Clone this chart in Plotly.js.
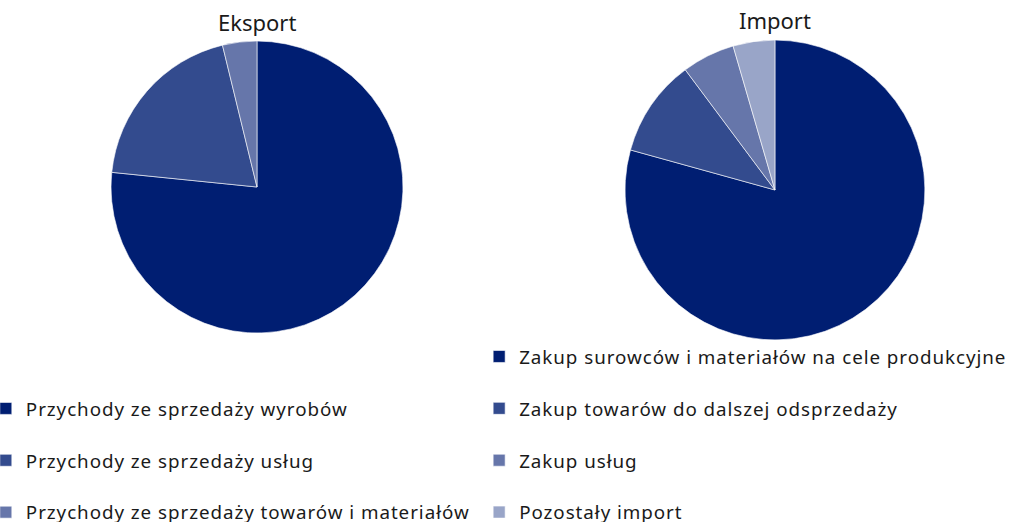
<!DOCTYPE html>
<html>
<head>
<meta charset="utf-8">
<script src="https://cdn.plot.ly/plotly-3.0.1.min.js"></script>
<style>
html,body{margin:0;padding:0;background:#fff;}
#chart{width:1013px;height:522px;}
text.legendtext, text.legend2text{letter-spacing:0.95px;}
</style>
</head>
<body>
<div id="chart"></div>
<script>
// ---- data ----
const chartTitles = ["Eksport", "Import"];
const exportCategories = [
  "Przychody ze sprzedaży wyrobów",
  "Przychody ze sprzedaży usług",
  "Przychody ze sprzedaży towarów i materiałów"
];
const exportShares = [76.6, 19.6, 3.8];
const importCategories = [
  "Zakup surowców i materiałów na cele produkcyjne",
  "Zakup towarów do dalszej odsprzedaży",
  "Zakup usług",
  "Pozostały import"
];
const importShares = [79.3, 10.5, 5.7, 4.5];

// ---- styles ----
const exportColors = ["#001e72", "#334b8e", "#6676aa"];
const importColors = ["#001e72", "#334b8e", "#6676aa", "#99a5c8"];
const FONT = "Noto Sans, sans-serif";

const spaced = arr => arr.map(s => s + "<br> ");

const traces = [
  {
    type: "pie",
    labels: spaced(exportCategories),
    values: exportShares,
    sort: false,
    direction: "clockwise",
    rotation: 0,
    textinfo: "none",
    hoverinfo: "label+percent",
    marker: {colors: exportColors, line: {color: "#ffffff", width: 0.6}},
    domain: {x: [0.1096, 0.3978], y: [0.362, 0.9215]},
    legend: "legend",
    showlegend: true
  },
  {
    type: "pie",
    labels: spaced(importCategories),
    values: importShares,
    sort: false,
    direction: "clockwise",
    rotation: 0,
    textinfo: "none",
    hoverinfo: "label+percent",
    marker: {colors: importColors, line: {color: "#ffffff", width: 0.6}},
    domain: {x: [0.617, 0.913], y: [0.3487, 0.9234]},
    legend: "legend2",
    showlegend: true
  }
];

const legendBase = {
  font: {family: FONT, size: 18.8, color: "#1a1a1a"},
  bgcolor: "rgba(0,0,0,0)",
  borderwidth: 0,
  valign: "top",
  xanchor: "left",
  yanchor: "top",
  orientation: "v"
};

const layout = {
  width: 1013,
  height: 522,
  margin: {l: 0, r: 0, t: 0, b: 0, autoexpand: false},
  paper_bgcolor: "#ffffff",
  font: {family: FONT, color: "#1a1a1a"},
  legend: Object.assign({}, legendBase, {x: -0.014, y: 0.2535}),
  legend2: Object.assign({}, legendBase, {x: 0.473, y: 0.353}),
  annotations: [
    {text: chartTitles[0], x: (0.1096 + 0.3978) / 2, y: 1 - 22 / 522, xref: "paper", yref: "paper",
     xanchor: "center", yanchor: "middle", showarrow: false, font: {family: FONT, size: 22, color: "#1a1a1a"}},
    {text: chartTitles[1], x: (0.617 + 0.913) / 2, y: 1 - 20 / 522, xref: "paper", yref: "paper",
     xanchor: "center", yanchor: "middle", showarrow: false, font: {family: FONT, size: 22, color: "#1a1a1a"}}
  ]
};

Plotly.newPlot("chart", traces, layout, {displayModeBar: false, responsive: false});
</script>
</body>
</html>
